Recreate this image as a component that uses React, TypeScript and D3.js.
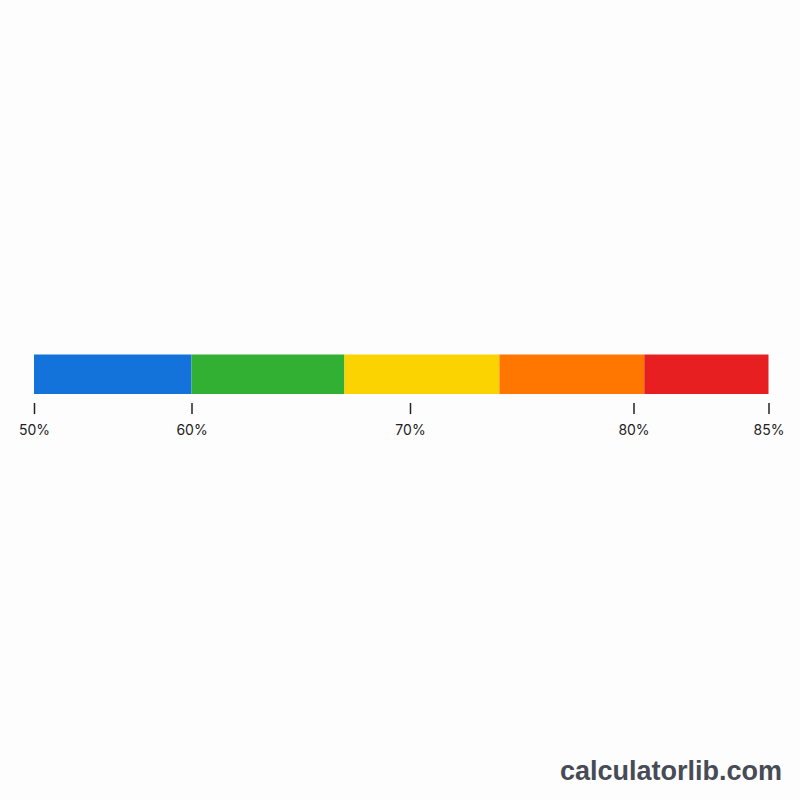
import React, { useEffect, useRef } from "react";
import * as d3 from "d3";

const bands = ["Blue", "Green", "Yellow", "Orange", "Red"];
const bandStarts = [50, 60, 67, 74, 80.4];
const bandEnds = [60, 67, 74, 80.4, 85];
const bandColors = ["#1473DB", "#32B034", "#FAD300", "#FF7600", "#E81F21"];
const tickValues = [50, 60, 70, 80, 85];
const tickLabels = ["50%", "60%", "70%", "80%", "85%"];

export default function App() {
  const ref = useRef<SVGSVGElement>(null);
  useEffect(() => {
    const svg = d3.select(ref.current);
    svg.selectAll("*").remove();
    const x = d3
      .scaleLinear()
      .domain(tickValues)
      .range([34, 191.5, 410, 633.5, 768.5]);
    const y0 = 354.5;
    const h = 39.5;
    svg
      .append("rect")
      .attr("width", 800)
      .attr("height", 800)
      .attr("fill", "#fdfdfd");
    svg
      .append("g")
      .selectAll("rect")
      .data(bands)
      .join("rect")
      .attr("x", (_, i) => x(bandStarts[i]))
      .attr("width", (_, i) => x(bandEnds[i]) - x(bandStarts[i]))
      .attr("y", y0)
      .attr("height", h)
      .attr("fill", (_, i) => bandColors[i]);
    const axis = d3
      .axisBottom(x)
      .tickValues(tickValues)
      .tickFormat((_, i) => tickLabels[i])
      .tickSize(11)
      .tickPadding(11);
    const g = svg
      .append("g")
      .attr("transform", `translate(0,${403})`)
      .call(axis);
    g.select(".domain").remove();
    g.selectAll(".tick line").attr("stroke", "#222").attr("stroke-width", 1.5);
    g.selectAll(".tick text")
      .attr("fill", "#222")
      .attr("font-size", 14)
      .attr("font-family", "Inter, 'Noto Sans', sans-serif");
    svg
      .append("text")
      .attr("x", 782)
      .attr("y", 780)
      .attr("text-anchor", "end")
      .attr("font-family", "'Liberation Sans', Arial, sans-serif")
      .attr("font-weight", "bold")
      .attr("font-size", 27)
      .attr("fill", "#464b56")
      .text("calculatorlib.com");
  }, []);
  return (
    <svg
      ref={ref}
      width={800}
      height={800}
      style={{ position: "absolute", left: 0, top: 0, display: "block" }}
    />
  );
}
